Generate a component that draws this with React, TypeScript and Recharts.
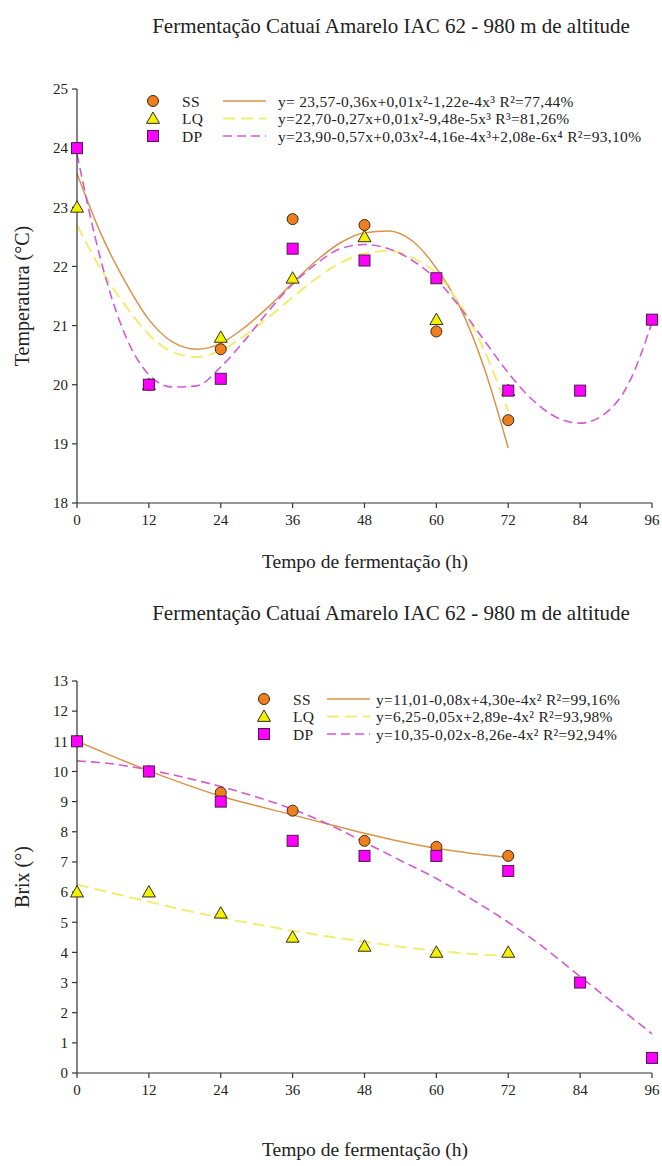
import React from 'react';
import { ComposedChart, Line, Scatter, XAxis, YAxis } from 'recharts';

const FONT = "'Liberation Serif', Tinos, 'Times New Roman', 'DejaVu Serif', serif";

// ---------- shared ----------
const hours = [0, 12, 24, 36, 48, 60, 72, 84, 96];
const seriesNames = ['SS', 'LQ', 'DP'];

// ---------- chart 1 : temperature ----------
const tempTitle = 'Fermentação Catuaí Amarelo IAC 62 - 980 m de altitude';
const tempYLabel = 'Temperatura (°C)';
const tempTicks = [18, 19, 20, 21, 22, 23, 24, 25];
const tempSS = [24.0, 20.0, 20.6, 22.8, 22.7, 20.9, 19.4];
const tempLQ = [23.0, 20.0, 20.8, 21.8, 22.5, 21.1, 19.9];
const tempDP = [24.0, 20.0, 20.1, 22.3, 22.1, 21.8, 19.9, 19.9, 21.1];
const tempFitHours = [0, 4, 8, 12, 16, 20, 24, 28, 32, 36, 40, 44, 48, 52, 56, 60, 64, 68, 72, 76, 80, 84, 88, 92, 96];
const tempSSFit = [23.57, 22.55, 21.75, 21.1, 20.72, 20.6, 20.7, 20.97, 21.32, 21.72, 22.1, 22.4, 22.57, 22.6, 22.43, 21.97, 21.3, 20.28, 18.93];
const tempLQFit = [22.7, 21.95, 21.35, 20.85, 20.55, 20.47, 20.58, 20.83, 21.14, 21.48, 21.8, 22.06, 22.22, 22.26, 22.15, 21.88, 21.35, 20.58, 19.55];
const tempDPFit = [23.9, 22.1, 20.85, 20.17, 19.96, 19.98, 20.3, 20.75, 21.25, 21.7, 22.05, 22.3, 22.37, 22.3, 22.1, 21.78, 21.3, 20.75, 20.2, 19.75, 19.45, 19.35, 19.5, 20.0, 21.05];
const tempEquations = [
  'y= 23,57-0,36x+0,01x²-1,22e-4x³ R²=77,44%',
  'y=22,70-0,27x+0,01x²-9,48e-5x³ R³=81,26%',
  'y=23,90-0,57x+0,03x²-4,16e-4x³+2,08e-6x⁴ R²=93,10%',
];

// ---------- chart 2 : brix ----------
const brixYLabel = 'Brix (°)';
const brixTicks = [0, 1, 2, 3, 4, 5, 6, 7, 8, 9, 10, 11, 12, 13];
const brixSS = [11.0, 10.0, 9.3, 8.7, 7.7, 7.5, 7.2];
const brixLQ = [6.0, 6.0, 5.3, 4.5, 4.2, 4.0, 4.0];
const brixDP = [11.0, 10.0, 9.0, 7.7, 7.2, 7.2, 6.7, 3.0, 0.5];
const brixFitHours = [0, 6, 12, 18, 24, 30, 36, 42, 48, 54, 60, 66, 72, 78, 84, 90, 96];
const brixSSFit = [11.0, 10.5, 10.02, 9.58, 9.18, 8.86, 8.56, 8.25, 7.95, 7.68, 7.45, 7.28, 7.15];
const brixLQFit = [6.25, 5.96, 5.68, 5.4, 5.15, 4.93, 4.72, 4.53, 4.35, 4.19, 4.05, 3.95, 3.88];
const brixDPFit = [10.35, 10.25, 10.05, 9.8, 9.5, 9.15, 8.75, 8.25, 7.65, 7.05, 6.45, 5.75, 5.0, 4.15, 3.2, 2.25, 1.3];
const brixEquations = [
  'y=11,01-0,08x+4,30e-4x² R²=99,16%',
  'y=6,25-0,05x+2,89e-4x² R²=93,98%',
  'y=10,35-0,02x-8,26e-4x² R²=92,94%',
];

const xLabel = 'Tempo de fermentação (h)';

// ---------- styles ----------
const AXIS = '#333';
const SS_LINE = '#D9944A';
const LQ_LINE = '#EEEE70';
const DP_LINE = '#D45AD4';
const SS_FILL = '#EE7F1C';
const LQ_FILL = '#F2F200';
const DP_FILL = '#FF00FF';
const MARK_STROKE = '#3a2a1a';

const toPts = (xs: number[], ys: number[]) => ys.map((y, i) => ({ x: xs[i], y }));

const CircleMark = (p: any) => (
  <circle cx={p.cx} cy={p.cy} r={5.5} fill={SS_FILL} stroke={MARK_STROKE} strokeWidth={1} />
);
const TriMark = (p: any) => {
  const s = 6.5;
  const { cx, cy } = p;
  return (
    <polygon
      points={`${cx},${cy - s} ${cx + s},${cy + s * 0.75} ${cx - s},${cy + s * 0.75}`}
      fill={LQ_FILL}
      stroke={MARK_STROKE}
      strokeWidth={1}
    />
  );
};
const SqMark = (p: any) => (
  <rect x={p.cx - 5.5} y={p.cy - 5.5} width={11} height={11} fill={DP_FILL} stroke={'#4a1a4a'} strokeWidth={1} />
);

const markers = [CircleMark, TriMark, SqMark];
const lineStyles = [
  { stroke: SS_LINE, dash: undefined as string | undefined, width: 1.5 },
  { stroke: LQ_LINE, dash: '12 6', width: 2 },
  { stroke: DP_LINE, dash: '9 5', width: 1.6 },
];

function LegendBlock({ top, rowGap, markerX, labelX, lineX1, lineX2, eqX, equations, fontSize }: any) {
  const lh = rowGap - 0.5;
  return (
    <>
      {seriesNames.map((name, i) => {
        const cy = top + i * rowGap;
        const M = markers[i];
        const ls = lineStyles[i];
        const txt = {
          position: 'absolute' as const,
          top: cy - lh / 2,
          height: lh,
          fontSize,
          lineHeight: `${lh}px`,
          fontFamily: FONT,
          letterSpacing: '0.3px',
          color: '#222',
          whiteSpace: 'nowrap' as const,
        };
        return (
          <React.Fragment key={name}>
            <svg style={{ position: 'absolute', left: 0, top: 0, overflow: 'visible' }} width={1} height={1}>
              <M cx={markerX} cy={cy} />
              <line x1={lineX1} x2={lineX2} y1={cy} y2={cy} stroke={ls.stroke} strokeWidth={ls.width} strokeDasharray={ls.dash} />
            </svg>
            <div style={{ ...txt, left: labelX }}>{name}</div>
            <div style={{ ...txt, left: eqX }}>{equations[i]}</div>
          </React.Fragment>
        );
      })}
    </>
  );
}

function Txt({ x, y, size, children, rotate }: any) {
  return (
    <div
      style={{
        position: 'absolute',
        left: x,
        top: y,
        transform: `translate(-50%, -50%)${rotate ? ' rotate(-90deg)' : ''}`,
        fontSize: size,
        lineHeight: `${size * 1.2}px`,
        fontFamily: FONT,
        color: '#222',
        whiteSpace: 'nowrap',
      }}
    >
      {children}
    </div>
  );
}

function Panel({ top, marginTop, marginBottom, yDomain, yTicks, yLabel, yLabelY, titleY, xLabelY, obs, fits, fitHours, legend }: any) {
  const W = 662;
  const H = 583;
  const tick = { fill: '#222', fontSize: 15, fontFamily: FONT };
  return (
    <div style={{ position: 'absolute', left: 0, top, width: W, height: H }}>
      <ComposedChart width={W} height={H} margin={{ top: marginTop, right: 10, bottom: marginBottom, left: 0 }}>
        <XAxis
          dataKey="x"
          type="number"
          domain={[0, 96]}
          ticks={hours}
          interval={0}
          height={30}
          tickSize={5}
          tickMargin={6}
          axisLine={{ stroke: AXIS, strokeWidth: 1.2 }}
          tickLine={{ stroke: AXIS, strokeWidth: 1.2 }}
          tick={tick}
        />
        <YAxis
          dataKey="y"
          type="number"
          domain={yDomain}
          ticks={yTicks}
          interval={0}
          width={77}
          tickSize={5}
          tickMargin={4}
          axisLine={{ stroke: AXIS, strokeWidth: 1.2 }}
          tickLine={{ stroke: AXIS, strokeWidth: 1.2 }}
          tick={tick}
        />
        {fits.map((f: number[], i: number) => (
          <Line
            key={'fit' + i}
            data={toPts(fitHours, f)}
            dataKey="y"
            type="monotone"
            dot={false}
            activeDot={false}
            stroke={lineStyles[i].stroke}
            strokeWidth={lineStyles[i].width}
            strokeDasharray={lineStyles[i].dash}
            isAnimationActive={false}
          />
        ))}
        {obs.map((o: number[], i: number) => (
          <Scatter key={'obs' + i} data={toPts(hours, o)} dataKey="y" shape={markers[i]} isAnimationActive={false} />
        ))}
      </ComposedChart>
      <Txt x={391} y={titleY} size={21}>{tempTitle}</Txt>
      <Txt x={22} y={yLabelY} size={20} rotate>{yLabel}</Txt>
      <Txt x={365} y={xLabelY} size={19.5}>{xLabel}</Txt>
      {legend}
    </div>
  );
}

export default function App() {
  return (
    <div style={{ position: 'absolute', left: 0, top: 0, width: 662, height: 1166, background: '#fff' }}>
      <Panel
        top={0}
        marginTop={89}
        marginBottom={50}
        yDomain={[18, 25]}
        yTicks={tempTicks}
        yLabel={tempYLabel}
        yLabelY={296}
        titleY={27}
        xLabelY={562}
        obs={[tempSS, tempLQ, tempDP]}
        fits={[tempSSFit, tempLQFit, tempDPFit]}
        fitHours={tempFitHours}
        legend={
          <LegendBlock top={101} rowGap={17.5} markerX={153} labelX={182} lineX1={223} lineX2={266} eqX={278} equations={tempEquations} fontSize={15.5} />
        }
      />
      <Panel
        top={583}
        marginTop={98}
        marginBottom={63}
        yDomain={[0, 13]}
        yTicks={brixTicks}
        yLabel={brixYLabel}
        yLabelY={294}
        titleY={31}
        xLabelY={567}
        obs={[brixSS, brixLQ, brixDP]}
        fits={[brixSSFit, brixLQFit, brixDPFit]}
        fitHours={brixFitHours}
        legend={
          <LegendBlock top={116} rowGap={17.5} markerX={264} labelX={293} lineX1={327} lineX2={370} eqX={376} equations={brixEquations} fontSize={15.5} />
        }
      />
    </div>
  );
}
